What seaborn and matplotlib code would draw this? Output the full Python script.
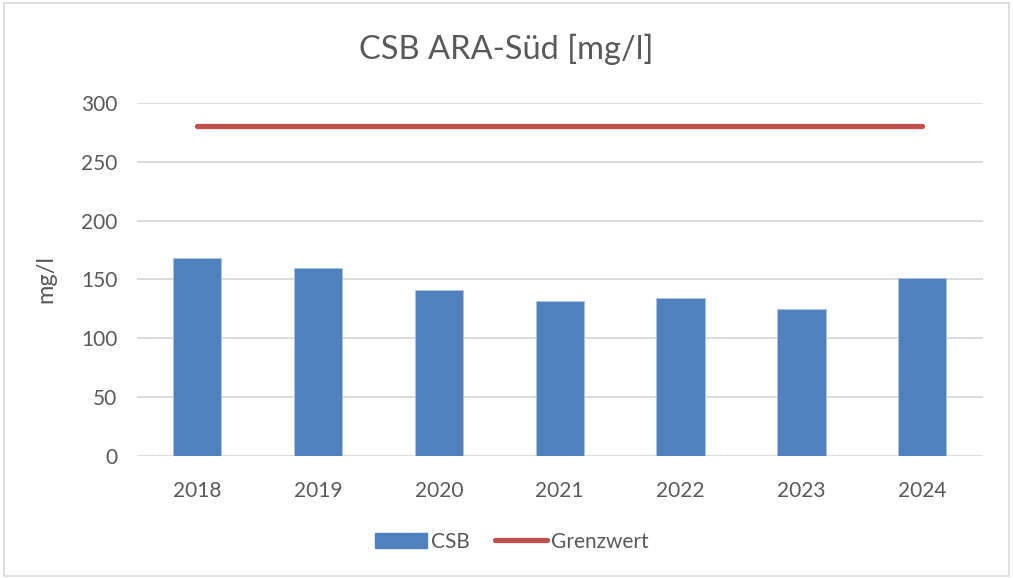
import pandas as pd
import matplotlib.pyplot as plt
import seaborn as sns
from matplotlib.patches import Rectangle
from matplotlib.lines import Line2D
from matplotlib.patches import Patch

# --- DATEN ---
jahre = ['2018', '2019', '2020', '2021', '2022', '2023', '2024']
csb = [168, 160, 141, 132, 134, 125, 151]
grenzwert = [280, 280, 280, 280, 280, 280, 280]

df = pd.DataFrame({'Jahr': jahre, 'CSB': csb, 'Grenzwert': grenzwert})

sns.set_theme(style="white")
plt.rcParams['font.family'] = ['Lato', 'DejaVu Sans']
grau = '#595959'

fig = plt.figure(figsize=(10.13, 5.78), dpi=100)
ax = fig.add_axes([0.135, 0.211, 0.835, 0.611])

# Balken
sns.barplot(data=df, x='Jahr', y='CSB', color='#4F81BD', width=0.4,
            saturation=1, edgecolor='#A9C4E4', linewidth=0.6, ax=ax, zorder=2)
# Grenzwert-Linie
sns.lineplot(data=df, x='Jahr', y='Grenzwert', color='#C0504D', linewidth=3.8,
             solid_capstyle='round', ax=ax, zorder=3)

ax.set_ylim(0, 300)
ax.set_yticks([0, 50, 100, 150, 200, 250, 300])
ax.set_xlim(-0.5, 6.5)
ax.grid(axis='y', color='#D9D9D9', linewidth=1.3, zorder=0)
ax.set_axisbelow(True)
for s in ax.spines.values():
    s.set_visible(False)
ax.tick_params(axis='both', length=0, labelsize=15, colors=grau)
ax.tick_params(axis='y', pad=14)
ax.tick_params(axis='x', pad=18)
ax.set_xlabel('')
ax.set_ylabel('mg/l', fontsize=17, color=grau, labelpad=18)

fig.text(0.5, 0.915, 'CSB ARA-Süd [mg/l]', ha='center', va='center',
         fontsize=23.5, color=grau)

# Legende
handles = [Patch(facecolor='#4F81BD', edgecolor='#4F81BD'),
           Line2D([0], [0], color='#C0504D', linewidth=3.8, solid_capstyle='round')]
fig.legend(handles, ['CSB', 'Grenzwert'], loc='center', bbox_to_anchor=(0.505, 0.063),
           ncol=2, frameon=False, fontsize=15, labelcolor=grau,
           handlelength=2.5, handleheight=0.75, handletextpad=0.2, columnspacing=1.2)

# Rahmen
fig.add_artist(Rectangle((0.004, 0.003), 0.992, 0.992, transform=fig.transFigure,
                         fill=False, edgecolor='#D9D9D9', linewidth=1.2))

fig.savefig('out.png', dpi=100, facecolor='white')
